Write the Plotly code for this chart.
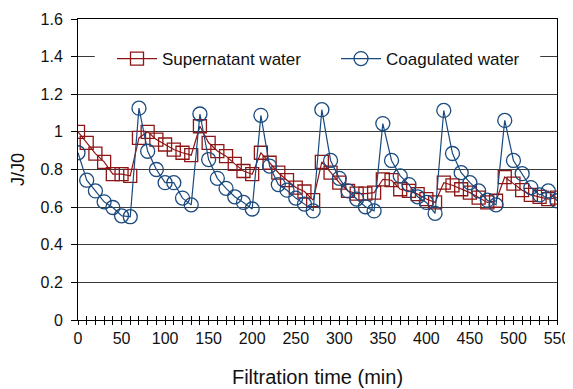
import plotly.graph_objects as go

time_min = list(range(0, 551, 10))

supernatant = [
    1.00, 0.942, 0.884, 0.841, 0.775, 0.775, 0.766,
    0.968, 1.00, 0.959, 0.933, 0.906, 0.889, 0.876,
    1.03, 0.942, 0.898, 0.871, 0.83, 0.792, 0.775,
    0.889, 0.836, 0.783, 0.743, 0.704, 0.683, 0.637,
    0.841, 0.783, 0.73, 0.686, 0.672, 0.672, 0.677,
    0.748, 0.743, 0.695, 0.686, 0.669, 0.643, 0.625,
    0.73, 0.716, 0.695, 0.677, 0.651, 0.625, 0.634,
    0.76, 0.725, 0.69, 0.665, 0.655, 0.643, 0.651,
]

coagulated = [
    0.889, 0.743, 0.686, 0.628, 0.598, 0.554, 0.549,
    1.126, 0.897, 0.80, 0.73, 0.73, 0.648, 0.612,
    1.095, 0.853, 0.753, 0.70, 0.655, 0.625, 0.59,
    1.088, 0.818, 0.72, 0.69, 0.648, 0.616, 0.58,
    1.118, 0.848, 0.753, 0.686, 0.643, 0.602, 0.58,
    1.044, 0.848, 0.766, 0.72, 0.655, 0.625, 0.567,
    1.114, 0.885, 0.783, 0.73, 0.686, 0.637, 0.612,
    1.061, 0.848, 0.778, 0.704, 0.665, 0.686, 0.634,
]

series_names = ["Supernatant water", "Coagulated water"]
x_ticks = list(range(0, 551, 50))
y_ticks = [0, 0.2, 0.4, 0.6, 0.8, 1, 1.2, 1.4, 1.6]
y_tick_labels = ["0", "0.2", "0.4", "0.6", "0.8", "1", "1.2", "1.4", "1.6"]

RED = "#8E1515"
BLUE = "#1A4A7E"
FONT = "Liberation Sans, Arial, sans-serif"

fig = go.Figure()
fig.add_trace(go.Scatter(
    x=time_min, y=supernatant, name=series_names[0], mode="lines+markers",
    line=dict(color=RED, width=1.2),
    marker=dict(symbol="square-open", size=13, color=RED, line=dict(width=1.3, color=RED)),
))
fig.add_trace(go.Scatter(
    x=time_min, y=coagulated, name=series_names[1], mode="lines+markers",
    line=dict(color=BLUE, width=1.2),
    marker=dict(symbol="circle-open", size=14, color=BLUE, line=dict(width=1.3, color=BLUE)),
))
# invisible trace on overlay axis to give inward-crossing ticks
fig.add_trace(go.Scatter(x=[time_min[0]], y=[None], xaxis="x2", showlegend=False, hoverinfo="skip"))

# white legend backing that hides the gridline behind the legend
fig.add_shape(type="rect", xref="paper", yref="paper", x0=0.035, x1=0.965, y0=0.82, y1=0.92,
              fillcolor="white", line=dict(width=0), layer="above")

# the page body has an 8px margin, so the figure is sized/placed to compensate
fig.update_layout(
    width=565, height=381,
    margin=dict(l=70, r=16, t=11, b=69, autoexpand=False),
    paper_bgcolor="white", plot_bgcolor="white",
    font=dict(family=FONT, color="#111111", size=14),
    xaxis=dict(
        range=[0, 550], tickvals=x_ticks, ticktext=[str(v) for v in x_ticks],
        ticks="outside", ticklen=4, tickcolor="black", tickwidth=1,
        minor=dict(dtick=10, tick0=0, ticks="outside", ticklen=4, tickcolor="black", showgrid=False),
        showline=True, linecolor="black", linewidth=1, mirror=True,
        showgrid=False, zeroline=False, automargin=False,
        tickfont=dict(size=16), ticklabelstandoff=0,
        title=dict(text="Filtration time (min)", font=dict(size=20), standoff=23),
    ),
    xaxis2=dict(
        range=[0, 550], overlaying="x", side="bottom", anchor="y",
        ticks="inside", ticklen=4, tickcolor="black", dtick=10, tick0=0,
        showticklabels=False, showgrid=False, showline=False, zeroline=False,
        automargin=False,
    ),
    yaxis=dict(
        range=[0, 1.6], tickvals=y_ticks, ticktext=y_tick_labels,
        ticks="outside", ticklen=6, tickcolor="black",
        showline=True, linecolor="black", linewidth=1, mirror=True,
        showgrid=True, gridcolor="#3a3a3a", gridwidth=1, zeroline=False,
        automargin=False,
        tickfont=dict(size=16), ticklabelstandoff=5,
        title=dict(text="J/J0", font=dict(size=18), standoff=11),
    ),
    legend=dict(
        orientation="h", x=0.071, y=0.867, xanchor="left", yanchor="middle",
        bgcolor="rgba(0,0,0,0)", font=dict(size=17),
        itemwidth=40, entrywidth=169, entrywidthmode="pixels",
    ),
    showlegend=True,
)

fig.write_html("out.html")
